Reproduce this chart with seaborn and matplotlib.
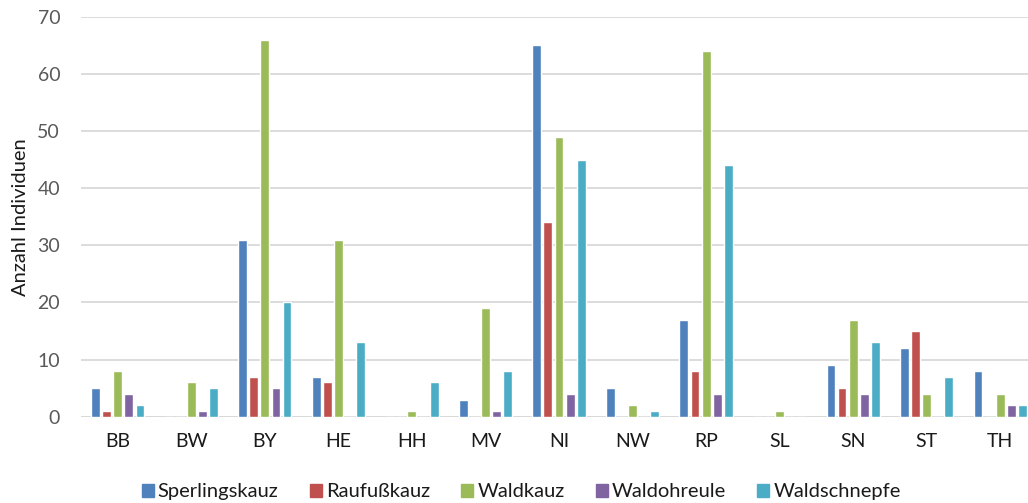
import matplotlib
matplotlib.use("Agg")
import matplotlib.pyplot as plt
import seaborn as sns
import pandas as pd

# Federal states (abbreviations) on the x axis
states = ["BB", "BW", "BY", "HE", "HH", "MV", "NI", "NW", "RP", "SL", "SN", "ST", "TH"]

# Counted individuals per species and state
species = ["Sperlingskauz", "Raufußkauz", "Waldkauz", "Waldohreule", "Waldschnepfe"]
sperlingskauz = [5, 0, 31, 7, 0, 3, 65, 5, 17, 0, 9, 12, 8]
raufusskauz = [1, 0, 7, 6, 0, 0, 34, 0, 8, 0, 5, 15, 0]
waldkauz = [8, 6, 66, 31, 1, 19, 49, 2, 64, 1, 17, 4, 4]
waldohreule = [4, 1, 5, 0, 0, 1, 4, 0, 4, 0, 4, 0, 2]
waldschnepfe = [2, 5, 20, 13, 6, 8, 45, 1, 44, 0, 13, 7, 2]

colors = ["#4F81BD", "#C0504D", "#9BBB59", "#8064A2", "#4BACC6"]

series = [sperlingskauz, raufusskauz, waldkauz, waldohreule, waldschnepfe]
rows = []
for name, values in zip(species, series):
    for st, v in zip(states, values):
        rows.append({"Land": st, "Art": name, "Anzahl": v})
df = pd.DataFrame(rows)

sns.set_theme(style="white")
plt.rcParams["font.family"] = ["Lato", "DejaVu Sans"]

fig = plt.figure(figsize=(10.28, 5.03), dpi=100)
ax = fig.add_axes([81 / 1028, 0.1716, (1037 - 81) / 1028, 0.9668 - 0.1716])

sns.barplot(data=df, x="Land", y="Anzahl", hue="Art", order=states,
            hue_order=species, palette=colors, width=0.755, gap=0.2,
            errorbar=None, ax=ax, legend=False, saturation=1)

ax.set_ylim(0, 70)
ax.set_xlim(-0.5, len(states) - 0.5)
ax.set_yticks(range(0, 71, 10))
ax.yaxis.grid(True, color="#D9D9D9", linewidth=1.3)
ax.set_axisbelow(True)
for side in ["top", "right", "left", "bottom"]:
    ax.spines[side].set_visible(False)
ax.axhline(0, color="#D9D9D9", linewidth=1.3, zorder=0.5)

ax.tick_params(axis="both", length=0, labelsize=14)
ax.tick_params(axis="y", colors="#595959", pad=15)
ax.tick_params(axis="x", colors="#1A1A1A", pad=12)
ax.set_xlabel("")
ax.set_ylabel("Anzahl Individuen", fontsize=14.5, color="#1A1A1A", labelpad=6)

handles = [plt.Rectangle((0, 0), 1, 1, color=c) for c in colors]
fig.legend(handles, species, loc="center", bbox_to_anchor=(0.507, 0.022),
           ncol=5, frameon=False, fontsize=14.5, handlelength=0.6,
           handleheight=0.6, handletextpad=0.2, columnspacing=1.55,
           labelcolor="#1A1A1A")

fig.savefig("out.png", dpi=100)
